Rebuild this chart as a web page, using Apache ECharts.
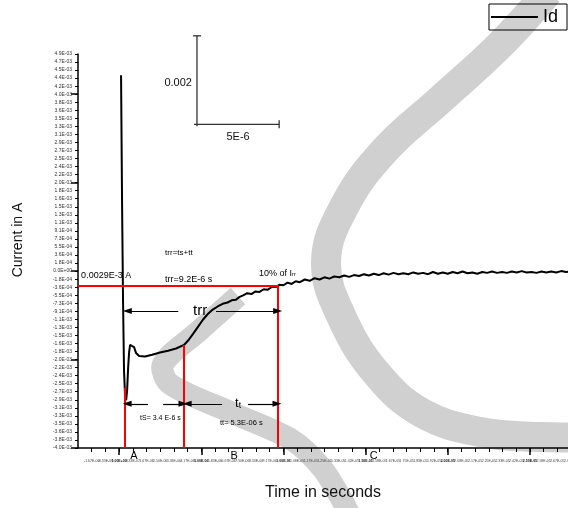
<!DOCTYPE html>
<html>
<head>
<meta charset="utf-8">
<title>Reverse recovery current</title>
<script src="https://cdn.jsdelivr.net/npm/echarts@6/dist/echarts.min.js"></script>
<style>
  html, body { margin: 0; padding: 0; background: #fff; }
  #main { width: 568px; height: 508px; }
</style>
</head>
<body>
<div id="main"></div>
<script>
// curve: time in microseconds, current in milliamps
var timeUs = [0.12, 0.18, 0.24, 0.30, 0.36, 0.43, 0.49, 0.55, 0.61, 0.67,
  0.79, 0.91, 1.03, 1.22, 1.58, 2.01, 2.49, 2.98, 3.47, 3.95,
  4.20, 4.50, 4.80, 5.10, 5.40, 5.70, 6.00, 6.30, 6.60, 6.85,
  7.10, 7.30, 7.55, 7.80, 8.05, 8.30, 8.55, 8.80, 9.05, 9.30,
  9.55, 9.75, 10.00, 10.25, 10.50, 10.75, 11.00, 11.30, 11.60, 11.90,
  12.20, 12.50, 12.80, 13.10, 13.40, 13.70, 14.00, 14.30, 14.60, 14.90,
  15.20, 15.50, 15.80, 16.10, 16.40, 16.70, 17.00, 17.30, 17.60, 17.90,
  18.20, 18.50, 18.80, 19.10, 19.40, 19.70, 20.00, 20.30, 20.60, 20.90,
  21.20, 21.50, 21.80, 22.10, 22.40, 22.70, 23.00, 23.30, 23.60, 23.90,
  24.20, 24.50, 24.80, 25.10, 25.40, 25.70, 26.00, 26.30, 26.60, 26.90,
  27.20, 27.50];
var currentMA = [4.43, 1.60, -0.66, -2.24, -2.80, -2.92, -2.69, -2.19, -1.83, -1.67,
  -1.63, -1.72, -1.85, -1.92, -1.93, -1.89, -1.84, -1.80, -1.75, -1.67,
  -1.57, -1.42, -1.26, -1.10, -0.97, -0.87, -0.80, -0.74, -0.71, -0.66,
  -0.65, -0.59, -0.55, -0.50, -0.52, -0.46, -0.47, -0.41, -0.42, -0.36,
  -0.36, -0.31, -0.32, -0.26, -0.29, -0.23, -0.25, -0.19, -0.22, -0.16,
  -0.19, -0.14, -0.17, -0.12, -0.14, -0.10, -0.13, -0.09, -0.11, -0.07,
  -0.10, -0.06, -0.09, -0.05, -0.08, -0.04, -0.07, -0.05, -0.07, -0.03,
  -0.06, -0.04, -0.07, -0.02, -0.06, -0.03, -0.06, -0.02, -0.05, -0.01,
  -0.05, -0.03, -0.06, -0.02, -0.04, -0.01, -0.04, -0.02, -0.04, -0.01,
  -0.03, 0.00, -0.03, -0.02, -0.04, -0.01, -0.03, -0.01, -0.03, 0.00,
  -0.02, -0.01];

// red construction lines (us / mA)
var markTimesUs = [0.36, 3.95, 9.67];
var markTopsMA = [-2.64, -1.67, -0.32];
var irr10MA = -0.32;

// arrows: from us, to us, level mA, which end has the head
var arrows = [
  [0.50, 3.60, -0.90, 'start'],
  [5.90, 9.65, -0.90, 'end'],
  [0.49, 1.76, -3.00, 'start'],
  [2.68, 3.89, -3.00, 'end'],
  [4.14, 6.27, -3.00, 'start'],
  [7.85, 9.61, -3.00, 'end']
];

// annotations: text, us, mA, font size, align
var notes = [
  ['trr=ts+tt', 2.80, 0.41, 8, 'left'],
  ['trr=9.2E-6 s', 2.80, -0.20, 9, 'left'],
  ['0.0029E-3 A', -2.31, -0.09, 9, 'left'],
  ['10% of I{s|rr}', 8.52, -0.045, 9, 'left'],
  ['trr', 4.93, -0.90, 15, 'center'],
  ['tS= 3.4 E-6 s', 1.28, -3.32, 7, 'left'],
  ['tt= 5.3E-06 s', 6.14, -3.43, 7.5, 'left'],
  ['t{s|t}', 7.24, -3.00, 13, 'center'],
  ['A', 0.91, -4.18, 11, 'center'],
  ['B', 7.00, -4.18, 11, 'center'],
  ['C', 15.50, -4.18, 11, 'center']
];

// scale bar: origin (us, mA) and size
var scaleOrigin = [4.74, 3.32];
var scaleSize = [5, 2];
var scaleLabels = ['0.002', '5E-6'];

// axes: 2E-3 split in 11 steps, 5E-6 split in 6 steps
var yStep = 0.002 / 11;
var yMin = -0.004, yMax = 27 * yStep;
var yMajor = [-0.004, -0.002, 0, 0.002, 0.004];
var xStep = 5e-6 / 6;
var xMin = -2.5e-6, xMax = 27.5e-6;
var xMajor = [0, 5e-6, 10e-6, 15e-6, 20e-6, 25e-6];

var fontFam = 'Liberation Sans, Arial, sans-serif';

function sci(v, digits) {
  if (Math.abs(v) < 1e-12) v = 0;
  var s = v.toExponential(digits).toUpperCase();
  return s.replace(/E([+-])(\d+)$/, function (m, sign, e) {
    return 'E' + sign + (e.length < 2 ? '0' + e : e);
  });
}

var curve = timeUs.map(function (t, k) { return [t * 1e-6, currentMA[k] * 1e-3]; });

var redLines = markTimesUs.map(function (t, k) {
  return [{coord: [t * 1e-6, markTopsMA[k] * 1e-3]}, {coord: [t * 1e-6, yMin]}];
});
redLines.push([{coord: [xMin, irr10MA * 1e-3]}, {coord: [markTimesUs[2] * 1e-6, irr10MA * 1e-3]}]);

var arrowLines = arrows.map(function (a) {
  return [
    {coord: [a[0] * 1e-6, a[2] * 1e-3], symbol: a[3] === 'start' ? 'triangle' : 'none', symbolSize: [6, 9]},
    {coord: [a[1] * 1e-6, a[2] * 1e-3], symbol: a[3] === 'end' ? 'triangle' : 'none', symbolSize: [6, 9]}
  ];
});

let myChart = echarts.init(document.getElementById('main'));

var option = {
  animation: false,
  textStyle: {fontFamily: fontFam},
  grid: {left: 78, top: 54, right: -3, bottom: 60, containLabel: false, outerBoundsMode: 'none'},
  legend: {
    data: ['Id'], right: 1, top: 4, icon: 'rect', itemWidth: 47, itemHeight: 2,
    borderColor: '#000', borderWidth: 1, borderRadius: 0, padding: [4, 9, 4, 2],
    textStyle: {fontSize: 18, color: '#000', fontFamily: fontFam}
  },
  xAxis: [{
    type: 'value', min: xMin, max: xMax, interval: xStep, position: 'bottom',
    axisLine: {onZero: false, lineStyle: {color: '#000', width: 1.5}},
    axisTick: {length: 4, lineStyle: {color: '#000', width: 1}},
    axisLabel: {
      fontSize: 3.5, color: '#444', margin: 11,
      formatter: function (v) {
        var k = v / 5e-6;
        var s = sci(v, 2);
        return Math.abs(k - Math.round(k)) < 1e-6 ? '{b|' + s + '}' : s;
      },
      rich: {b: {fontSize: 3.5, fontWeight: 'bold', color: '#111'}}
    },
    splitLine: {show: false}
  }, {
    type: 'value', min: xMin, max: xMax, position: 'bottom',
    axisLine: {show: false, onZero: false},
    axisTick: {show: true, length: 7, customValues: xMajor, lineStyle: {color: '#000', width: 1.5}},
    axisLabel: {show: false},
    splitLine: {show: false}
  }],
  yAxis: [{
    type: 'value', min: yMin, max: yMax, interval: yStep, position: 'left',
    axisLine: {show: true, onZero: false, lineStyle: {color: '#000', width: 1.5}},
    axisTick: {show: true, length: 3, lineStyle: {color: '#000', width: 1}},
    axisLabel: {fontSize: 5, color: '#333', margin: 6, formatter: function (v) { return sci(v, 1); }},
    splitLine: {show: false}
  }, {
    type: 'value', min: yMin, max: yMax, position: 'left',
    axisLine: {show: false, onZero: false},
    axisTick: {show: true, length: 7, customValues: yMajor, lineStyle: {color: '#000', width: 1.5}},
    axisLabel: {show: false},
    splitLine: {show: false}
  }],
  series: [{
    name: 'Id',
    type: 'line',
    data: curve,
    symbol: 'none',
    lineStyle: {color: '#000', width: 2},
    itemStyle: {color: '#000'},
    z: 3
  }, {
    name: 'marks',
    type: 'line',
    data: [],
    z: 4,
    markLine: {
      silent: true, animation: false, symbol: ['none', 'none'],
      label: {show: false},
      lineStyle: {color: '#ff0000', width: 2, type: 'solid'},
      data: redLines
    }
  }, {
    name: 'arrows',
    type: 'line',
    data: [],
    z: 5,
    markLine: {
      silent: true, animation: false, symbol: ['none', 'none'],
      label: {show: false},
      lineStyle: {color: '#000', width: 1.2, type: 'solid'},
      itemStyle: {color: '#000'},
      data: arrowLines
    }
  }]
};

myChart.setOption(option);

function toPx(tUs, iMA) {
  return myChart.convertToPixel({seriesIndex: 0}, [tUs * 1e-6, iMA * 1e-3]);
}

var graphics = [];

// watermark behind everything
graphics.push({
  type: 'polyline', z: -10, silent: true,
  shape: {points: [[548, -8], [500, 45], [440, 100], [385, 150], [345, 205], [326, 262], [343, 320], [378, 375], [422, 413], [480, 432], [540, 437], [590, 437]], smooth: 0.4},
  style: {stroke: '#d0d0d0', lineWidth: 30, fill: null}
});
graphics.push({
  type: 'polyline', z: -10, silent: true,
  shape: {points: [[238, 296], [200, 330], [163, 364], [170, 384], [235, 414], [292, 440], [322, 468], [342, 500], [352, 520]], smooth: 0.3},
  style: {stroke: '#d0d0d0', lineWidth: 22, fill: null}
});

// axis titles
graphics.push({
  type: 'text', x: 18, y: 240, rotation: Math.PI / 2,
  style: {text: 'Current in A', fontSize: 14, fontFamily: fontFam, fill: '#111', align: 'center', verticalAlign: 'middle'}
});
graphics.push({
  type: 'text', x: 323, y: 493,
  style: {text: 'Time in seconds', fontSize: 16, fontFamily: fontFam, fill: '#111', align: 'center', verticalAlign: 'middle'}
});

// annotations
notes.forEach(function (n) {
  var p = toPx(n[1], n[2]);
  graphics.push({
    type: 'text', x: p[0], y: p[1], z: 20,
    style: {
      text: n[0], fontSize: n[3], fontFamily: fontFam, fill: '#000',
      align: n[4], verticalAlign: 'middle',
      rich: {s: {fontSize: n[3] * 0.65, fontFamily: fontFam, fill: '#000', padding: [n[3] * 0.35, 0, 0, 0]}}
    }
  });
});

// scale bar
var barO = toPx(scaleOrigin[0], scaleOrigin[1]);
var barTop = toPx(scaleOrigin[0], scaleOrigin[1] + scaleSize[1]);
var barRight = toPx(scaleOrigin[0] + scaleSize[0], scaleOrigin[1]);
var barStyle = {stroke: '#333', lineWidth: 1.3};
[
  [barO[0], barO[1] + 2, barO[0], barTop[1]],
  [barO[0] - 4, barTop[1], barO[0] + 4, barTop[1]],
  [barO[0] - 3, barO[1], barRight[0], barO[1]],
  [barRight[0], barO[1] - 4, barRight[0], barO[1] + 4]
].forEach(function (s) {
  graphics.push({type: 'line', z: 20, shape: {x1: s[0], y1: s[1], x2: s[2], y2: s[3]}, style: barStyle});
});
graphics.push({
  type: 'text', x: barO[0] - 5, y: (barO[1] + barTop[1]) / 2 + 3, z: 20,
  style: {text: scaleLabels[0], fontSize: 11, fontFamily: fontFam, fill: '#111', align: 'right', verticalAlign: 'middle'}
});
graphics.push({
  type: 'text', x: (barO[0] + barRight[0]) / 2, y: barO[1] + 13, z: 20,
  style: {text: scaleLabels[1], fontSize: 11, fontFamily: fontFam, fill: '#111', align: 'center', verticalAlign: 'middle'}
});

myChart.setOption({graphic: graphics});
</script>
</body>
</html>
